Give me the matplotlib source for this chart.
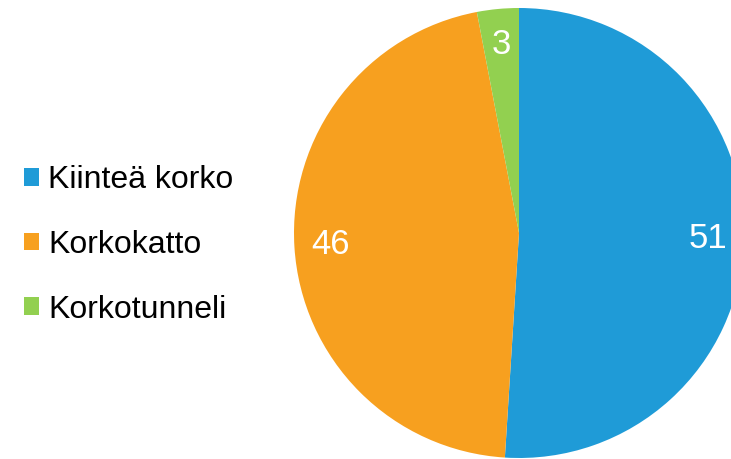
import matplotlib.pyplot as plt
from matplotlib.patches import Patch

plt.rcParams['font.family'] = ['Liberation Sans', 'DejaVu Sans']

# Data
labels = ["Kiinteä korko", "Korkokatto", "Korkotunneli"]
values = [51, 46, 3]
colors = ["#1F9BD7", "#F7A01F", "#92D050"]

fig = plt.figure(figsize=(7.31, 4.59), dpi=100)

# pie axes: centre at (519, 233) px, radius 225 px, runs off the right edge
W, H = 731, 459
cx, cy, r = 519, 233, 225
ax = fig.add_axes([(cx - r) / W, (H - cy - r) / H, 2 * r / W, 2 * r / H])

wedges, texts, autotexts = ax.pie(values, colors=colors, startangle=90,
                                  counterclock=False, autopct='%.0f',
                                  pctdistance=0.84,
                                  textprops={'color': 'white', 'fontsize': 25})
ax.set_xlim(-1, 1)
ax.set_ylim(-1, 1)
ax.set_aspect('equal')

handles = [Patch(facecolor=c, edgecolor='none') for c in colors]
fig.legend(handles, labels, loc='center left', bbox_to_anchor=(24 / W, (H - 245) / H),
           frameon=False, fontsize=23, handlelength=0.47, handleheight=0.47,
           handletextpad=0.28, labelspacing=1.08, borderpad=0, borderaxespad=0)

plt.savefig("out.png", dpi=100)
